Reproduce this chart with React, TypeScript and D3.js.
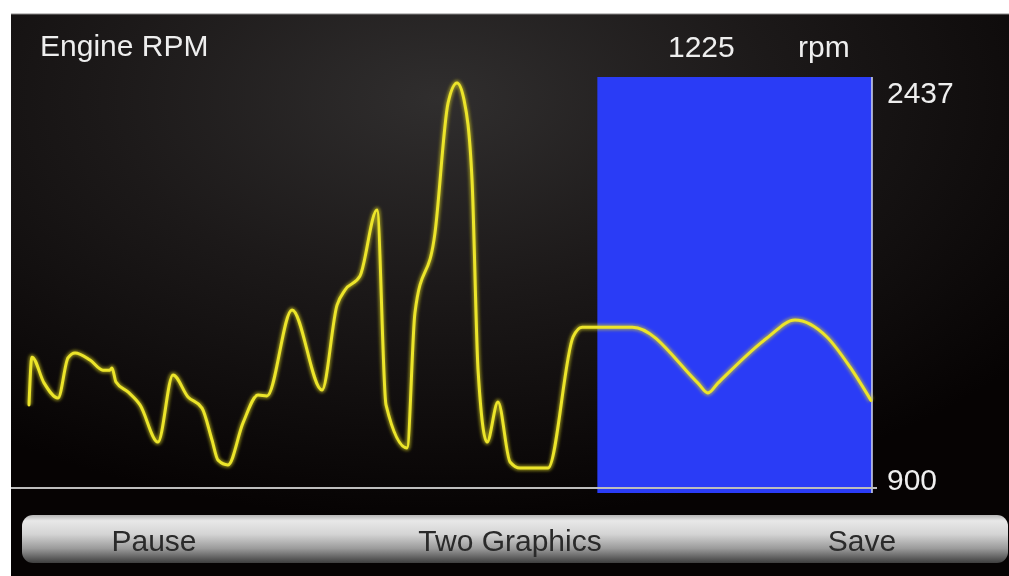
import React from "react";
import * as d3 from "d3";

// Sample times (s) and engine speed (rpm)
const times = [0, 0.21, 1.07, 2.07, 2.78, 3.28, 4.35, 5.27, 5.77, 5.91, 6.2, 7.05, 7.91, 9.19, 10.26, 11.33, 12.33, 13.04, 13.47, 14.18, 15.25, 16.32, 16.96, 18.74, 20.88, 21.95, 22.52, 23.59, 24.8, 25.44, 26.94, 27.5, 28.93, 29.86, 30.5, 31.0, 31.57, 32.0, 32.64, 33.42, 34.28, 35.0, 36.98, 38.77, 39.41, 39.98, 43.0, 47.67, 48.38, 49.09, 52.59, 54.58, 56.86, 58.5, 60];
const rpm = [1213, 1393, 1296, 1239, 1390, 1409, 1382, 1344, 1344, 1352, 1299, 1262, 1213, 1073, 1326, 1243, 1201, 1081, 1005, 987, 1145, 1250, 1247, 1571, 1269, 1589, 1646, 1699, 1947, 1213, 1051, 1559, 1861, 2350, 2426, 2362, 2060, 1344, 1073, 1224, 998, 975, 975, 1469, 1506, 1506, 1506, 1295, 1258, 1295, 1465, 1533, 1469, 1356, 1230];

const yTicks = [900, 2437];
const currentValue = "1225";
const unit = "rpm";
const title = "Engine RPM";
const buttons = ["Pause", "Two Graphics", "Save"];
const highlightWindow = [40.5, 60];

const W = 1009;
const H = 576;

export default function App() {
  const x = d3.scaleLinear().domain([0, 60]).range([29, 871]);
  const y = d3.scaleLinear().domain([900, 2437]).range([488, 80]);
  const pts = times.map((t, i) => [t, rpm[i]] as [number, number]);
  const line = d3
    .line<[number, number]>()
    .x((d) => x(d[0]))
    .y((d) => y(d[1]))
    .curve(d3.curveMonotoneX);
  const path = line(pts) || "";
  const font = "'Liberation Sans', Arial, Helvetica, sans-serif";
  const btnCenters = [154, 510, 862];
  const hx0 = x(highlightWindow[0]);
  const hx1 = x(highlightWindow[1]) + 1;

  return (
    <svg
      width={W}
      height={H}
      style={{ position: "absolute", left: 0, top: 0, display: "block" }}
    >
      <defs>
        <radialGradient id="bg" cx="0.43" cy="0.15" r="0.75" fx="0.43" fy="0.15">
          <stop offset="0%" stopColor="#302e2e" />
          <stop offset="45%" stopColor="#1c1919" />
          <stop offset="100%" stopColor="#060303" />
        </radialGradient>
        <linearGradient id="btn" x1="0" y1="0" x2="0" y2="1">
          <stop offset="0%" stopColor="#b5b5b5" />
          <stop offset="12%" stopColor="#e8e8e8" />
          <stop offset="40%" stopColor="#d4d4d4" />
          <stop offset="70%" stopColor="#9a9a9a" />
          <stop offset="100%" stopColor="#3e3e3e" />
        </linearGradient>
        <filter id="glow" x="-5%" y="-5%" width="110%" height="110%">
          <feGaussianBlur stdDeviation="1.6" />
        </filter>
        <filter id="soft" x="-5%" y="-20%" width="110%" height="140%">
          <feGaussianBlur stdDeviation="0.5" />
        </filter>
      </defs>
      <rect x={0} y={0} width={W} height={H} fill="#ffffff" />
      <rect x={11} y={14} width={W - 11} height={H - 14} fill="url(#bg)" />
      <line x1={11} x2={W} y1={14} y2={14} stroke="#8a8888" strokeWidth={1.2} />
      <rect x={hx0} y={77} width={hx1 - hx0} height={416} fill="#2a3cf6" />
      <line x1={hx1} x2={hx1} y1={77} y2={493} stroke="#c8cce8" strokeWidth={1.6} />
      <line x1={11} x2={hx1 + 5} y1={y(900)} y2={y(900)} stroke="#bdbdbd" strokeWidth={2} />
      <path d={path} fill="none" stroke="#d8d21c" strokeOpacity={0.55} strokeWidth={6} filter="url(#glow)" />
      <path d={path} fill="none" stroke="#ece52a" strokeWidth={3} strokeLinejoin="round" strokeLinecap="round" />
      <g fontFamily={font} fontSize={30} fill="#eeeeee" filter="url(#soft)">
        <text x={40} y={56}>{title}</text>
        <text x={668} y={57}>{currentValue}</text>
        <text x={798} y={57}>{unit}</text>
        <text x={887} y={y(yTicks[1]) + 23}>{yTicks[1]}</text>
        <text x={887} y={y(yTicks[0]) + 2}>{yTicks[0]}</text>
      </g>
      <rect x={22} y={515} width={986} height={48} rx={11} fill="url(#btn)" />
      <g fontFamily={font} fontSize={30} fill="#2a2a2a" textAnchor="middle" filter="url(#soft)">
        {buttons.map((b, i) => (
          <text key={b} x={btnCenters[i]} y={551}>{b}</text>
        ))}
      </g>
    </svg>
  );
}
